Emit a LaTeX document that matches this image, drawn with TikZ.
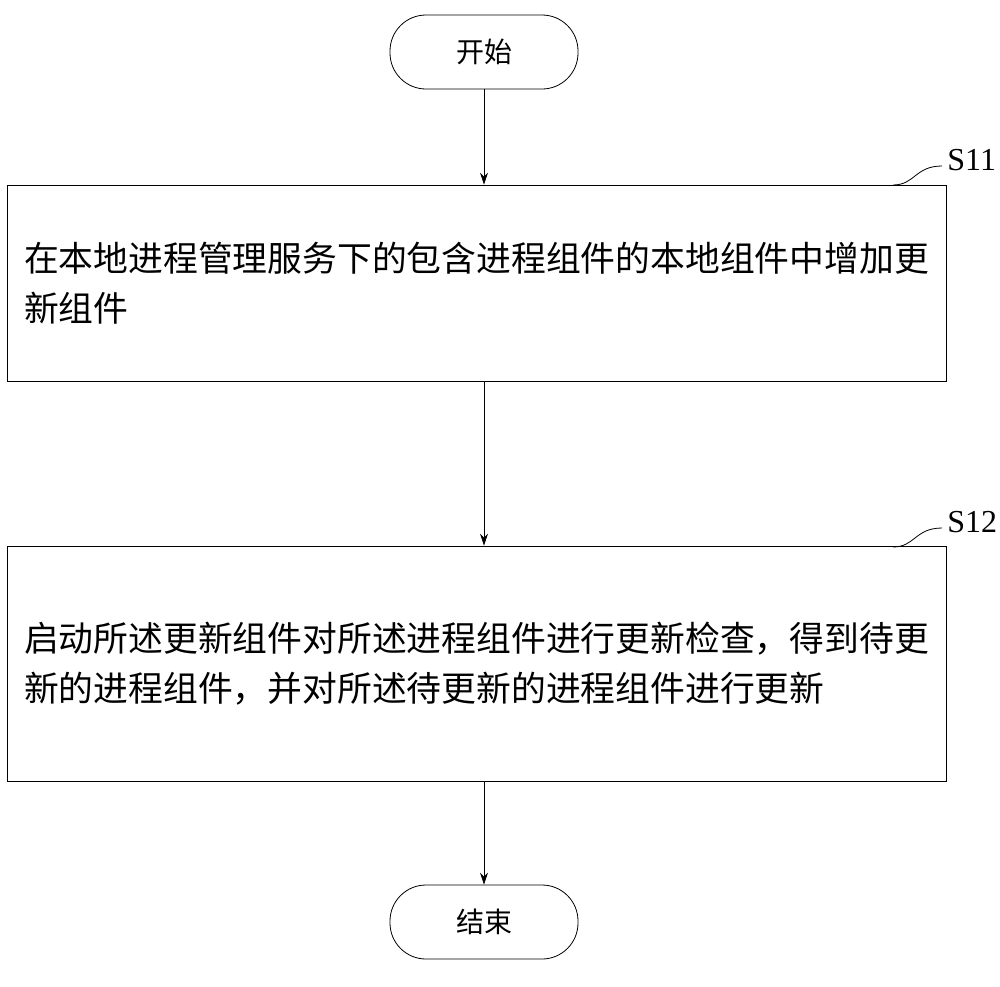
\documentclass[tikz,border=0pt]{standalone}
\usepackage{fontspec}
\setmainfont{Liberation Serif}
\newfontfamily\cjk{Noto Sans CJK SC}
\usetikzlibrary{arrows.meta}
\tikzset{
  term/.style = {draw, rounded corners=18pt, minimum width=94pt,
                 minimum height=37pt, inner sep=0pt, font=\cjk\fontsize{14pt}{16pt}\selectfont},
  stepbox/.style = {draw, minimum width=469.5pt, inner sep=0pt,
                 align=left, font=\cjk\fontsize{17.4pt}{25pt}\selectfont},
  flow/.style = {-{Stealth[length=6pt,width=4pt]}, thin},
  steplabel/.style = {anchor=west, font=\fontsize{16pt}{18pt}\selectfont, inner sep=1pt}
}
\begin{document}
\begin{tikzpicture}[x=0.5pt,y=-0.5pt]
	\useasboundingbox (0,0) rectangle (1000,986);
	
	% Terminals
	\node[term] (start) at (484,52) {开始};
	\node[term] (stop) at (484,922) {结束};
	
	% Steps
	\node[stepbox, minimum height=98pt] (s11) at (476.5,283) {在本地进程管理服务下的包含进程组件的本地组件中增加更\\新组件};
	\node[stepbox, minimum height=117.5pt] (s12) at (476.5,663.5) {启动所述更新组件对所述进程组件进行更新检查，得到待更\\新的进程组件，并对所述待更新的进程组件进行更新};
	
	% Labels
	\coordinate (c11) at (942,166);
	\coordinate (c12) at (942,528);
	\draw (893,185) .. controls (915,185) and (915,166) .. (c11);
	\draw (893,547) .. controls (915,547) and (915,528) .. (c12);
	\node[steplabel] (l11) at (945,160) {S11};
	\node[steplabel] (l12) at (945,522) {S12};
	
	% Arrows
	\draw[flow] (start) -- (s11.north -| start);
	\draw[flow] (s11.south -| start) -- (s12.north -| start);
	\draw[flow] (s12.south -| start) -- (stop);
\end{tikzpicture}
\end{document}
